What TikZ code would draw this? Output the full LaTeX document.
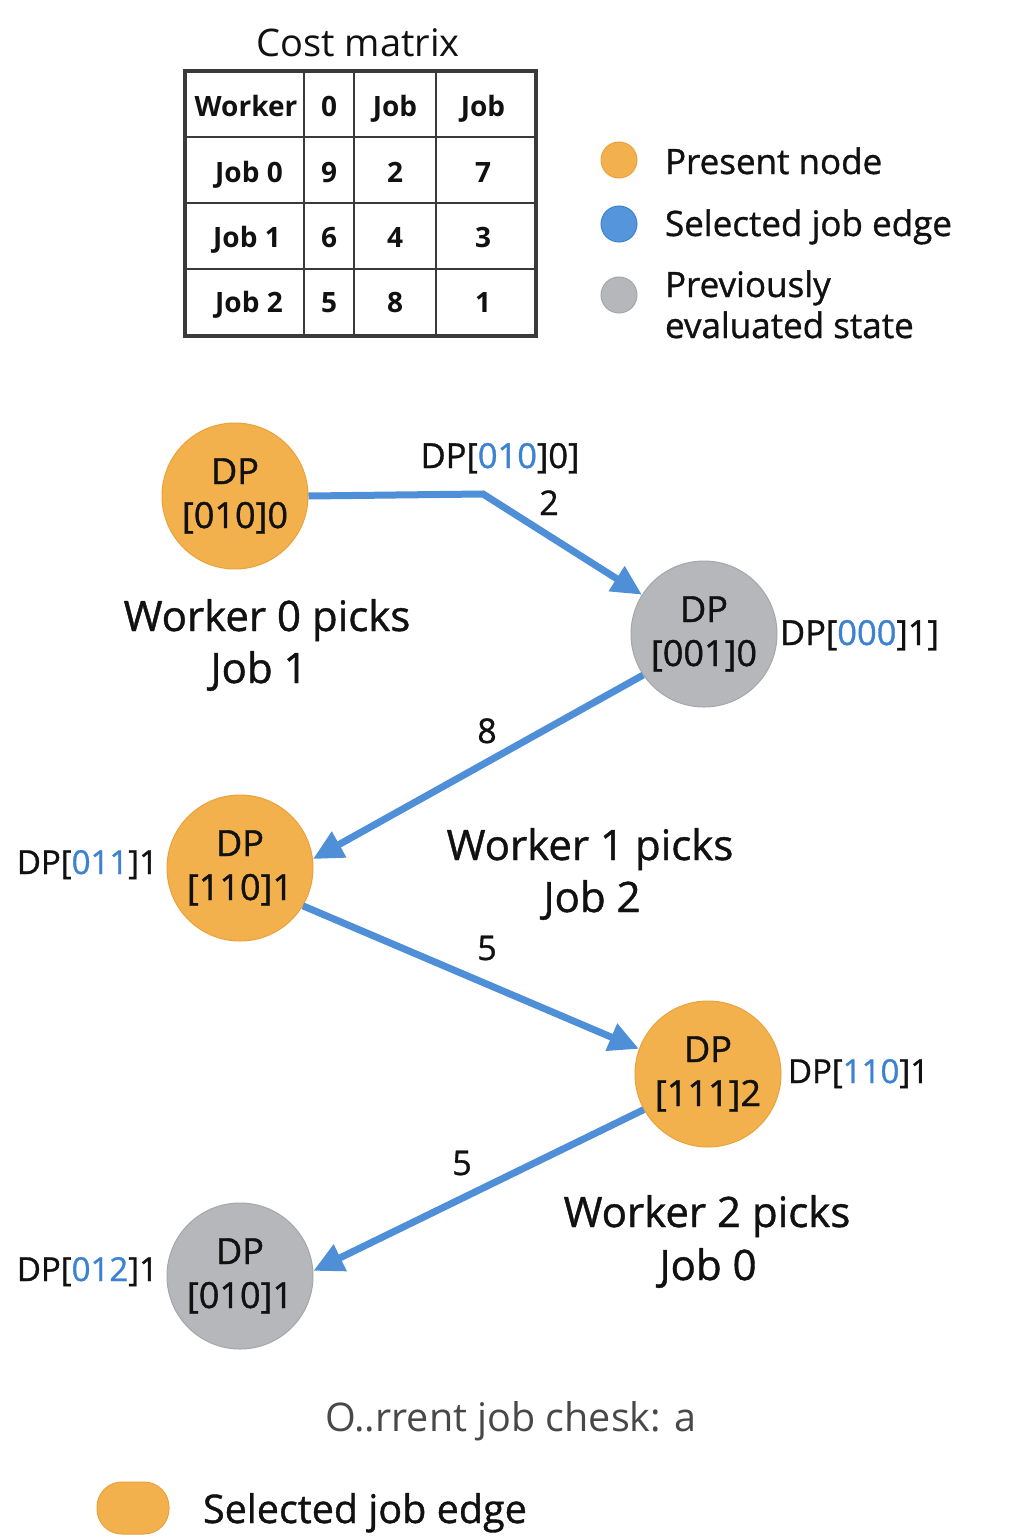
\documentclass[tikz,border=0pt]{standalone}
\usepackage{fontspec}
\setmainfont{Open Sans}
\newfontfamily\medfont{Open Sans}[FakeBold=1.0]
\usetikzlibrary{arrows.meta}
\definecolor{orangeF}{HTML}{F3B14D}
\definecolor{orangeD}{HTML}{E9A23B}
\definecolor{grayF}{HTML}{B5B7BA}
\definecolor{grayD}{HTML}{A5A7AA}
\definecolor{blueE}{HTML}{4F8FD8}
\definecolor{blueT}{HTML}{3D82D1}
\definecolor{blueL}{HTML}{5595DB}
\definecolor{blueLD}{HTML}{3F82CF}
\definecolor{tblline}{HTML}{3A3A3A}
\definecolor{grayText}{HTML}{484848}
\definecolor{ink}{HTML}{111111}
\begin{document}
\begin{tikzpicture}[x=1pt,y=-1pt,
  dpnode/.style={circle, minimum size=146pt, inner sep=0pt, line width=1pt, align=center, text=ink, font=\fontsize{36}{44}\selectfont\medfont},
  present/.style={dpnode, fill=orangeF, draw=orangeD},
  prevstate/.style={dpnode, fill=grayF, draw=grayD},
  edgearrow/.style={draw=blueE, line width=7pt, -{Triangle[length=30pt,width=28pt]}},
  txt/.style={inner sep=0pt, outer sep=0pt, text=ink},
  tcell/.style={txt, anchor=base, font=\fontsize{28}{32}\selectfont\bfseries},
  legtxt/.style={txt, anchor=base west, font=\fontsize{35}{40}\selectfont\medfont},
  legdot/.style={circle, minimum size=36pt, inner sep=0pt, line width=1pt},
  dplbl/.style={txt, font=\fontsize{34.5}{40}\selectfont\medfont},
  numlbl/.style={txt, anchor=base, font=\fontsize{34}{40}\selectfont\medfont},
  picklbl/.style={txt, anchor=base, font=\fontsize{42}{50}\selectfont\medfont},
]
\useasboundingbox[fill=white] (0,0) rectangle (1024,1536);

% ---- cost matrix ----
\node[txt, anchor=base, font=\fontsize{38}{44}\selectfont] (title) at (358,57) {Cost matrix};
\draw[tblline, line width=1.3pt] (304,71) -- (304,336) (354,71) -- (354,336) (436,71) -- (436,336)
  (185,137) -- (536,137) (185,203) -- (536,203) (185,269) -- (536,269);
\draw[tblline, line width=3.5pt] (185,71) rectangle (536,336);
\node[tcell] (h0) at (246,117) {Worker};
\node[tcell] (h1) at (329,117) {0};
\node[tcell] (h2) at (395,117) {Job};
\node[tcell] (h3) at (483,117) {Job};
\node[tcell] (r10) at (249,182) {Job 0};
\node[tcell] (r11) at (329,182) {9};
\node[tcell] (r12) at (395,182) {2};
\node[tcell] (r13) at (483,182) {7};
\node[tcell] (r20) at (247,247) {Job 1};
\node[tcell] (r21) at (329,247) {6};
\node[tcell] (r22) at (395,247) {4};
\node[tcell] (r23) at (483,247) {3};
\node[tcell] (r30) at (249,312) {Job 2};
\node[tcell] (r31) at (329,312) {5};
\node[tcell] (r32) at (395,312) {8};
\node[tcell] (r33) at (483,312) {1};

% ---- legend ----
\node[legdot, fill=orangeF, draw=orangeD] (lg1) at (619,160) {};
\node[legdot, fill=blueL, draw=blueLD] (lg2) at (619,224) {};
\node[legdot, fill=grayF, draw=grayD] (lg3) at (619,295) {};
\node[legtxt] (lt1) at (665,174) {Present node};
\node[legtxt] (lt2) at (665,236) {Selected job edge};
\node[legtxt] (lt3) at (665,297) {Previously};
\node[legtxt] (lt4) at (665,338) {evaluated state};

% ---- DP nodes ----
\node[present] (n1) at (235,496) {DP\\{[010]0}};
\node[prevstate] (n2) at (704,634) {DP\\{[001]0}};
\node[present] (n3) at (240,868) {DP\\{[110]1}};
\node[present] (n4) at (708,1074) {DP\\{[111]2}};
\node[prevstate] (n5) at (240,1276) {DP\\{[010]1}};

% ---- edges ----
\coordinate (b1) at (483,494);
\draw[edgearrow] (n1.east) -- (b1) -- (n2);
\draw[edgearrow] (n2.214.5) -- (n3.7.8);
\draw[edgearrow] (n3.329) -- (n4.160.6);
\draw[edgearrow] (n4.209.7) -- (n5.4.7);

% ---- labels ----
\node[dplbl, anchor=base] (l1) at (500,468) {DP[\textcolor{blueT}{010}]0]};
\node[numlbl] (c1) at (549,515) {2};
\node[dplbl, anchor=base west] (l2) at (780,645) {DP[\textcolor{blueT}{000}]1]};
\node[numlbl] (c2) at (487,743) {8};
\node[dplbl, anchor=base east, font=\fontsize{33}{40}\selectfont\medfont] (l3) at (158,874) {DP[\textcolor{blueT}{011}]1};
\node[numlbl] (c3) at (487,960) {5};
\node[dplbl, anchor=base west, font=\fontsize{33}{40}\selectfont\medfont] (l4) at (788,1083) {DP[\textcolor{blueT}{110}]1};
\node[numlbl] (c4) at (462,1175) {5};
\node[dplbl, anchor=base east, font=\fontsize{33}{40}\selectfont\medfont] (l5) at (158,1281) {DP[\textcolor{blueT}{012}]1};

\node[picklbl] (p1a) at (267,631) {Worker 0 picks};
\node[picklbl] (p1b) at (259,683) {Job 1};
\node[picklbl] (p2a) at (590,860) {Worker 1 picks};
\node[picklbl] (p2b) at (592,912) {Job 2};
\node[picklbl] (p3a) at (707,1227) {Worker 2 picks};
\node[picklbl] (p3b) at (708,1280) {Job 0};

% ---- bottom ----
\node[txt, anchor=base, text=grayText, font=\fontsize{39.5}{44}\selectfont] (cur) at (511,1431) {O..rrent job chesk: a};
\node[rounded corners=25pt, minimum width=72pt, minimum height=52pt, inner sep=0pt, fill=orangeF, draw=orangeD, line width=1pt] (lg4) at (133,1508) {};
\node[txt, anchor=base west, font=\fontsize{39.5}{44}\selectfont\medfont] (lt5) at (203,1523) {Selected job edge};
\end{tikzpicture}
\end{document}
